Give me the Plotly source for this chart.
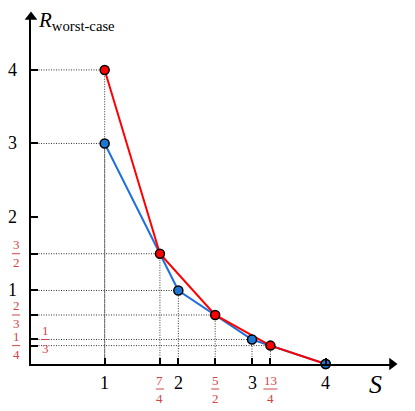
import plotly.graph_objects as go

# red curve (vertices) and blue curve (hull)
S_red = [1, 7 / 4, 5 / 2, 13 / 4, 4]
R_red = [4, 3 / 2, 2 / 3, 1 / 4, 0]
S_blue = [1, 2, 3, 4]
R_blue = [3, 1, 1 / 3, 0]

# tick labels
x_int_ticks = [1, 2, 3, 4]
y_int_ticks = [1, 2, 3, 4]
x_frac_vals = [7 / 4, 5 / 2, 13 / 4]
x_frac_num = ["7", "5", "13"]
x_frac_den = ["4", "2", "4"]
y_frac_vals = [3 / 2, 2 / 3, 1 / 4, 1 / 3]
y_frac_num = ["3", "2", "1", "1"]
y_frac_den = ["2", "3", "4", "3"]
y_frac_side = [-1, -1, -1, 1]

XMAX, YMAX = 4.9, 4.72
FONT = "Liberation Serif, Times New Roman, serif"
FRAC_COLOR = "#d24545"
RED = "#ff0000"
BLUE = "#1f6fdc"

fig = go.Figure()

# dotted guide lines from the axes to each point
pts = sorted(set(zip(S_red, R_red)) | set(zip(S_blue, R_blue)))
gx, gy = [], []
for s, r in pts:
    if r == 0:
        continue
    gx += [0, s, s, None]
    gy += [r, r, 0, None]
fig.add_trace(go.Scatter(x=gx, y=gy, mode="lines",
                         line=dict(color="#333333", width=1, dash="1px,1.5px"),
                         hoverinfo="skip", showlegend=False))

fig.add_trace(go.Scatter(x=S_blue, y=R_blue, mode="lines",
                         line=dict(color=BLUE, width=2), showlegend=False))
fig.add_trace(go.Scatter(x=S_red, y=R_red, mode="lines+markers",
                         line=dict(color=RED, width=2),
                         marker=dict(size=9, color=RED, line=dict(color="black", width=1.5)),
                         cliponaxis=False, showlegend=False))
fig.add_trace(go.Scatter(x=S_blue, y=R_blue, mode="markers",
                         marker=dict(size=9, color="#1a78d4", line=dict(color="black", width=1.5)),
                         cliponaxis=False, showlegend=False))

# axis arrow heads
fig.add_trace(go.Scatter(x=[XMAX], y=[0], mode="markers", cliponaxis=False,
                         marker=dict(symbol="triangle-right", size=11, color="black"),
                         hoverinfo="skip", showlegend=False))
fig.add_trace(go.Scatter(x=[0], y=[YMAX], mode="markers", cliponaxis=False,
                         marker=dict(symbol="triangle-up", size=11, color="black"),
                         hoverinfo="skip", showlegend=False))

# integer tick labels
for v in x_int_ticks:
    fig.add_annotation(x=v, y=0, text=str(v), showarrow=False, yshift=-19,
                       font=dict(family=FONT, size=18, color="black"))
for v in y_int_ticks:
    fig.add_annotation(x=0, y=v, text=str(v), showarrow=False, xshift=-19,
                       font=dict(family=FONT, size=18, color="black"))


def add_frac(x, y, num, den, xs, ys):
    f = dict(family=FONT, size=13, color=FRAC_COLOR)
    fig.add_annotation(x=x, y=y, text=num, showarrow=False, xshift=xs, yshift=ys + 9, font=f)
    fig.add_annotation(x=x, y=y, text=den, showarrow=False, xshift=xs, yshift=ys - 9, font=f)
    w = 4 if len(num) == 1 else 7
    # paper refs so the bar is not clipped to the plot area
    fig.add_shape(type="line", xref="paper", yref="paper", xsizemode="pixel", ysizemode="pixel",
                  xanchor=x / XMAX, yanchor=y / YMAX, x0=xs - w, x1=xs + w, y0=ys, y1=ys,
                  line=dict(color=FRAC_COLOR, width=1))


for v, n, d in zip(x_frac_vals, x_frac_num, x_frac_den):
    add_frac(v, 0, n, d, 0, -25)
for v, n, d, side in zip(y_frac_vals, y_frac_num, y_frac_den, y_frac_side):
    add_frac(0, v, n, d, 14 if side > 0 else -15, 0)

# axis titles
fig.add_annotation(x=0, y=YMAX, text="<i>R</i><sub>worst-case</sub>", showarrow=False,
                   xanchor="left", yanchor="middle", xshift=5, yshift=-4,
                   font=dict(family=FONT, size=21, color="black"))
fig.add_annotation(x=4.67, y=0, text="<i>S</i>", showarrow=False, yshift=-20,
                   font=dict(family=FONT, size=26, color="black"))

tick_x = sorted(set(S_red) | set(S_blue))
tick_y = sorted(set(R_red) | set(R_blue) | set(y_int_ticks))
tick_y = [t for t in tick_y if t > 0]

# the page body adds 8px, so margins are shifted to compensate
fig.update_layout(
    width=415, height=411,
    margin=dict(l=23, r=31, t=9, b=55),
    plot_bgcolor="white", paper_bgcolor="white",
    xaxis=dict(range=[0, XMAX], showgrid=False, zeroline=False, showline=True,
               linecolor="black", linewidth=2, tickvals=tick_x, ticks="inside",
               ticklen=6, tickwidth=2, tickcolor="black", showticklabels=False, fixedrange=True),
    yaxis=dict(range=[0, YMAX], showgrid=False, zeroline=False, showline=True,
               linecolor="black", linewidth=2, tickvals=tick_y, ticks="inside",
               ticklen=7, tickwidth=2, tickcolor="black", showticklabels=False, fixedrange=True),
)

fig.write_html("out.html")
